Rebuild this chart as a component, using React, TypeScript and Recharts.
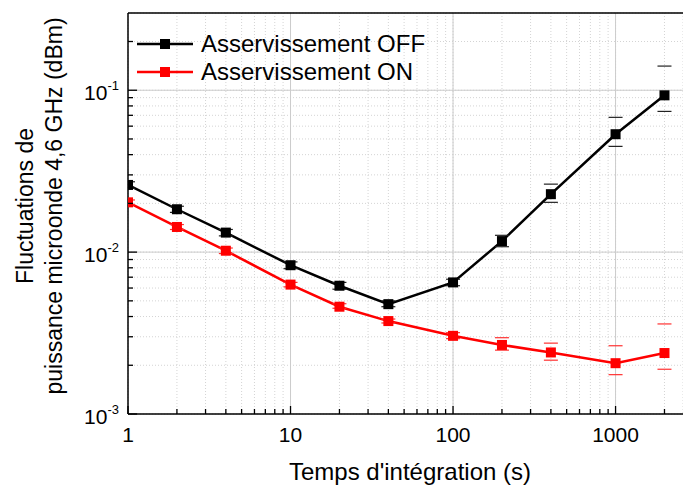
import React from 'react'
import {
  ComposedChart,
  Line,
  Scatter,
  XAxis,
  YAxis,
  CartesianGrid,
  ReferenceLine,
} from 'recharts'

// integration times (s)
const times = [1, 2, 4, 10, 20, 40, 100, 200, 400, 1000, 2000]

// servo OFF
const offValues = [0.026, 0.0184, 0.0132, 0.0083, 0.0062, 0.00477, 0.0065, 0.0117, 0.0228, 0.0535, 0.093]
const offLow = [0.0248, 0.0176, 0.0126, 0.0079, 0.0059, 0.0046, 0.0062, 0.0108, 0.0203, 0.045, 0.074]
const offHigh = [0.0272, 0.0192, 0.0138, 0.0087, 0.0065, 0.005, 0.0068, 0.0127, 0.0263, 0.068, 0.141]

// servo ON
const onValues = [0.0203, 0.0143, 0.0102, 0.0063, 0.0046, 0.00375, 0.00304, 0.00267, 0.0024, 0.00206, 0.00238]
const onLow = [0.0196, 0.0138, 0.0098, 0.0061, 0.0045, 0.00365, 0.00292, 0.00248, 0.00215, 0.00175, 0.00189]
const onHigh = [0.021, 0.0148, 0.0106, 0.0065, 0.0048, 0.00386, 0.00318, 0.00296, 0.00274, 0.00264, 0.0036]

const xMajor = [1, 10, 100, 1000]
const xLabels = ['1', '10', '100', '1000']
const yMajor = [0.001, 0.01, 0.1]
const yExponents = ['-3', '-2', '-1']

const X_DOMAIN: [number, number] = [1, 2600]
const Y_DOMAIN: [number, number] = [0.001, 0.3]

// minor ticks 2..9 per decade, kept inside the domain
const minorsOf = (majors: number[], max: number) => {
  const out: number[] = []
  majors.forEach((m) => {
    out.push(m)
    for (let k = 2; k <= 9; k++) if (m * k <= max) out.push(m * k)
  })
  return out
}
const xTicks = minorsOf(xMajor, X_DOMAIN[1])
const yTicks = minorsOf(yMajor, Y_DOMAIN[1])

const toPoints = (vals: number[]) => times.map((t, i) => ({ x: t, y: vals[i] }))
const offData = toPoints(offValues)
const onData = toPoints(onValues)
const offCaps = [...toPoints(offLow), ...toPoints(offHigh)]
const onCaps = [...toPoints(onLow), ...toPoints(onHigh)]

const FONT = '"Liberation Sans", Arial, sans-serif'
const BLACK = '#000000'
const RED = '#ff0000'

const XTick = ({ x, y, payload }: any) => {
  const idx = xMajor.indexOf(payload.value)
  const major = idx >= 0
  return (
    <g>
      <line x1={x} x2={x} y1={y} y2={y - (major ? 8 : 5)} stroke="#000" strokeWidth={1.3} />
      {major && (
        <text x={x} y={y + 28} textAnchor="middle" fontSize={21} fontFamily={FONT} fill="#000">
          {xLabels[idx]}
        </text>
      )}
    </g>
  )
}

const YTick = ({ x, y, payload }: any) => {
  const idx = yMajor.findIndex((v) => Math.abs(v - payload.value) < v * 1e-6)
  const major = idx >= 0
  return (
    <g>
      <line x1={x} x2={x + (major ? 9 : 5)} y1={y} y2={y} stroke="#000" strokeWidth={1.3} />
      {major && (
        <text x={x - 9} y={y + 10} textAnchor="end" fontSize={21} fontFamily={FONT} fill="#000">
          <tspan>10</tspan>
          <tspan dy={-10} fontSize={13}>{yExponents[idx]}</tspan>
        </text>
      )}
    </g>
  )
}

const capShape = (color: string) => (p: any) => (
  <line x1={p.cx - 7} x2={p.cx + 7} y1={p.cy} y2={p.cy} stroke={color} strokeWidth={1.2} />
)

const squareDot = (color: string) => (p: any) => (
  <rect key={p.index} x={p.cx - 5} y={p.cy - 5} width={10} height={10} fill={color} />
)

function LegendRow({ y, color, label }: { y: number; color: string; label: string }) {
  return (
    <g>
      <line x1={137} x2={193} y1={y} y2={y} stroke={color} strokeWidth={2.5} />
      <rect x={160} y={y - 5} width={10} height={10} fill={color} />
      <text x={201} y={y + 7.5} fontSize={24} fontFamily={FONT} fill="#000">
        {label}
      </text>
    </g>
  )
}

export default function App() {
  return (
    <div style={{ position: 'absolute', left: 0, top: 0, width: 683, height: 485, background: '#fff' }}>
      <ComposedChart width={683} height={485} margin={{ top: 13, right: 0, left: 0, bottom: 0 }}>
        <CartesianGrid strokeDasharray="1 2" stroke="#d4d4d4" />
        {xMajor.slice(1).map((v) => (
          <ReferenceLine key={'x' + v} x={v} stroke="#cccccc" strokeWidth={1} />
        ))}
        {yMajor.slice(1).map((v) => (
          <ReferenceLine key={'y' + v} y={v} stroke="#cccccc" strokeWidth={1} />
        ))}
        <ReferenceLine y={Y_DOMAIN[1]} stroke="#000" strokeWidth={1.5} />
        <XAxis
          dataKey="x"
          type="number"
          scale="log"
          domain={X_DOMAIN}
          allowDataOverflow
          ticks={xTicks}
          interval={0}
          tickSize={0}
          tickMargin={0}
          tickLine={false}
          tick={<XTick />}
          height={71}
          axisLine={{ stroke: '#000', strokeWidth: 1.5 }}
        />
        <YAxis
          type="number"
          scale="log"
          domain={Y_DOMAIN}
          allowDataOverflow
          ticks={yTicks}
          interval={0}
          tickSize={0}
          tickMargin={0}
          tickLine={false}
          tick={<YTick />}
          width={128}
          axisLine={{ stroke: '#000', strokeWidth: 1.5 }}
        />
        <Scatter data={offCaps} dataKey="y" shape={capShape('#222')} isAnimationActive={false} />
        <Scatter data={onCaps} dataKey="y" shape={capShape('#ff3030')} isAnimationActive={false} />
        <Line
          data={offData}
          dataKey="y"
          stroke={BLACK}
          strokeWidth={2.5}
          dot={squareDot(BLACK)}
          activeDot={false}
          isAnimationActive={false}
        />
        <Line
          data={onData}
          dataKey="y"
          stroke={RED}
          strokeWidth={2.5}
          dot={squareDot(RED)}
          activeDot={false}
          isAnimationActive={false}
        />
      </ComposedChart>
      <svg
        width={683}
        height={485}
        style={{ position: 'absolute', left: 0, top: 0, pointerEvents: 'none' }}
      >
        <LegendRow y={44} color={BLACK} label="Asservissement OFF" />
        <LegendRow y={72} color={RED} label="Asservissement ON" />
        <text x={410} y={480} textAnchor="middle" fontSize={24} fontFamily={FONT} fill="#000">
          Temps d'intégration (s)
        </text>
        <text
          transform="translate(33,206) rotate(-90)"
          textAnchor="middle"
          fontSize={23}
          fontFamily={FONT}
          fill="#000"
        >
          Fluctuations de
        </text>
        <text
          transform="translate(62,206) rotate(-90)"
          textAnchor="middle"
          fontSize={23}
          fontFamily={FONT}
          fill="#000"
        >
          puissance microonde 4,6 GHz (dBm)
        </text>
      </svg>
    </div>
  )
}
